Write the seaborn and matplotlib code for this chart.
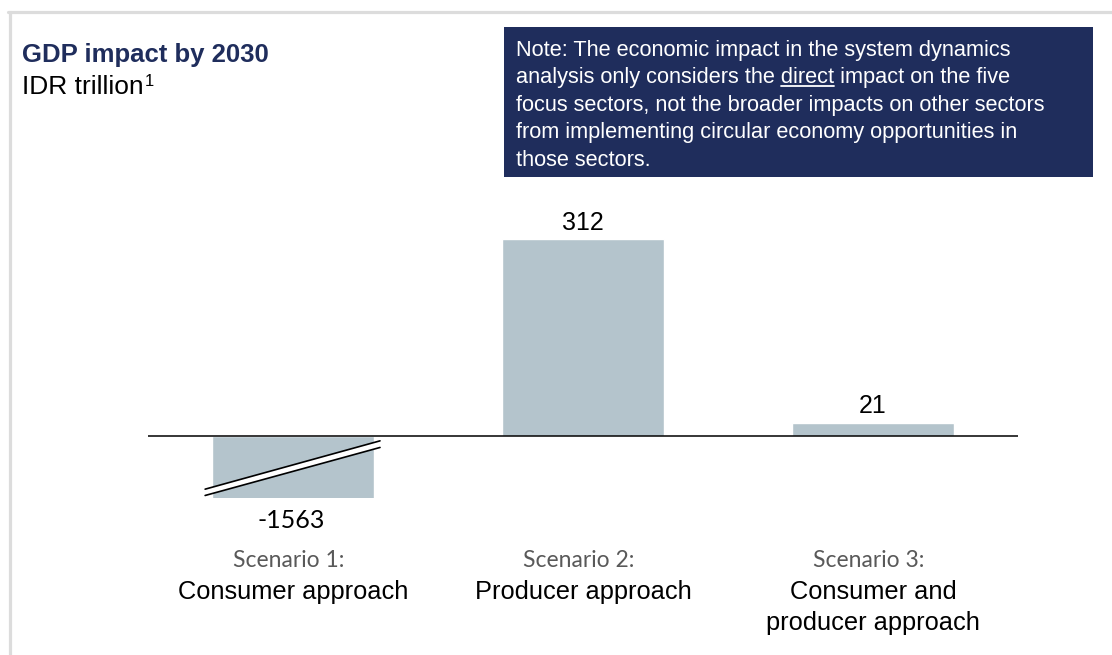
import matplotlib
matplotlib.use("Agg")
import matplotlib.pyplot as plt
import seaborn as sns
from matplotlib.patches import Rectangle, Polygon
from matplotlib.lines import Line2D

# data
scenarios = ["Scenario 1:", "Scenario 2:", "Scenario 3:"]
approaches = ["Consumer approach", "Producer approach", "Consumer and\nproducer approach"]
gdp_impact = [-1563, 312, 21]

title = "GDP impact by 2030"
unit = "IDR trillion"
unit_note = "1"
note_lines = [
    "Note: The economic impact in the system dynamics",
    "analysis only considers the direct impact on the five",
    "focus sectors, not the broader impacts on other sectors",
    "from implementing circular economy opportunities in",
    "those sectors.",
]
underlined = "direct"

navy = "#1f2d5c"
bar_color = "#b4c4cc"

sns.set_theme(style="white")
plt.rcParams['font.family'] = ['Liberation Sans', 'DejaVu Sans']

W, H = 1112, 655
fig = plt.figure(figsize=(W / 100, H / 100), dpi=100)
ax = fig.add_axes([148 / W, 1 - 498 / H, 870 / W, 270 / H])

sns.barplot(x=approaches, y=gdp_impact, color=bar_color, saturation=1,
            width=0.56, errorbar=None, ax=ax)
ax.set_ylim(-98, 330)
ax.set_xlim(-0.5, 2.5)
ax.axhline(0, color="black", lw=1.1, zorder=4)
ax.axis("off")

# bar labels
ymin = ax.get_ylim()[0]
for i, v in enumerate(gdp_impact):
    if v >= 0:
        ax.annotate(str(v), xy=(i, v), xytext=(0, 7), textcoords="offset points",
                    ha="center", va="baseline", fontsize=18, color="black")
    else:
        ax.annotate(str(v), xy=(i, ymin), xytext=(-1.5, -21.6), textcoords="offset points",
                    ha="center", va="baseline", fontsize=18, color="black", family="Lato")

# axis break on the truncated bar
band = [(-0.303, -84), (0.30, -7.4), (0.30, -17.9), (-0.303, -94)]
ax.add_patch(Polygon(band, closed=True, facecolor="white", edgecolor="none",
                     clip_on=False, zorder=5))
ax.plot([-0.303, 0.30], [-84, -7.4], color="black", lw=1.2, clip_on=False, zorder=6)
ax.plot([-0.303, 0.30], [-94, -17.9], color="black", lw=1.2, clip_on=False, zorder=6)

# category labels
for i, (s, a) in enumerate(zip(scenarios, approaches)):
    ax.annotate(s, xy=(i, -0.255), xycoords=ax.get_xaxis_transform(),
                xytext=(-3, 0), textcoords="offset points", ha="center",
                va="baseline", fontsize=16.5, color="#595959", family="Lato")
    for k, line in enumerate(a.split("\n")):
        ax.annotate(line, xy=(i, -0.375), xycoords=ax.get_xaxis_transform(),
                    xytext=(0, -22.3 * k), textcoords="offset points",
                    ha="center", va="baseline", fontsize=18.3, color="black")

renderer = fig.canvas.get_renderer()

# title
fig.text(22 / W, 1 - 62 / H, title, fontsize=18.5, fontweight="bold", color=navy,
         va="baseline", ha="left")
t_unit = fig.text(22 / W, 1 - 94 / H, unit, fontsize=19, color="black",
                  va="baseline", ha="left")
ux = t_unit.get_window_extent(renderer).x1
fig.text((ux + 1.5) / W, 1 - 86 / H, unit_note, fontsize=12, color="black",
         va="baseline", ha="left")

# note box
fig.patches.append(Rectangle((504 / W, 1 - 177 / H), 589 / W, 150 / H,
                             transform=fig.transFigure, facecolor=navy,
                             edgecolor="none", zorder=1))
base0 = 55.7
step = 27.5
note_size = 15.7
for k, line in enumerate(note_lines):
    fig.text(516 / W, 1 - (base0 + k * step) / H, line, fontsize=note_size,
             color="white", va="baseline", ha="left", zorder=2)

# underline the word "direct"
line2 = note_lines[1]
cut = line2.index(underlined) + len(underlined)
y2 = 1 - (base0 + step) / H
t_full = fig.text(516 / W, y2, line2[:cut], fontsize=note_size, va="baseline", alpha=0)
t_word = fig.text(516 / W, y2, underlined, fontsize=note_size, va="baseline", alpha=0)
right = t_full.get_window_extent(renderer).x1
left = right - t_word.get_window_extent(renderer).width
uy = base0 + step + 3
fig.add_artist(Line2D([left / W, right / W], [1 - uy / H, 1 - uy / H],
                      transform=fig.transFigure, color="white", lw=1.3))

# frame lines
fig.add_artist(Line2D([8 / W, 1], [1 - 12 / H, 1 - 12 / H], transform=fig.transFigure,
                      color="#dcdcdc", lw=2.3))
fig.add_artist(Line2D([9.5 / W, 9.5 / W], [0, 1 - 12 / H], transform=fig.transFigure,
                      color="#dcdcdc", lw=2.3))

fig.savefig("out.png", dpi=100)
